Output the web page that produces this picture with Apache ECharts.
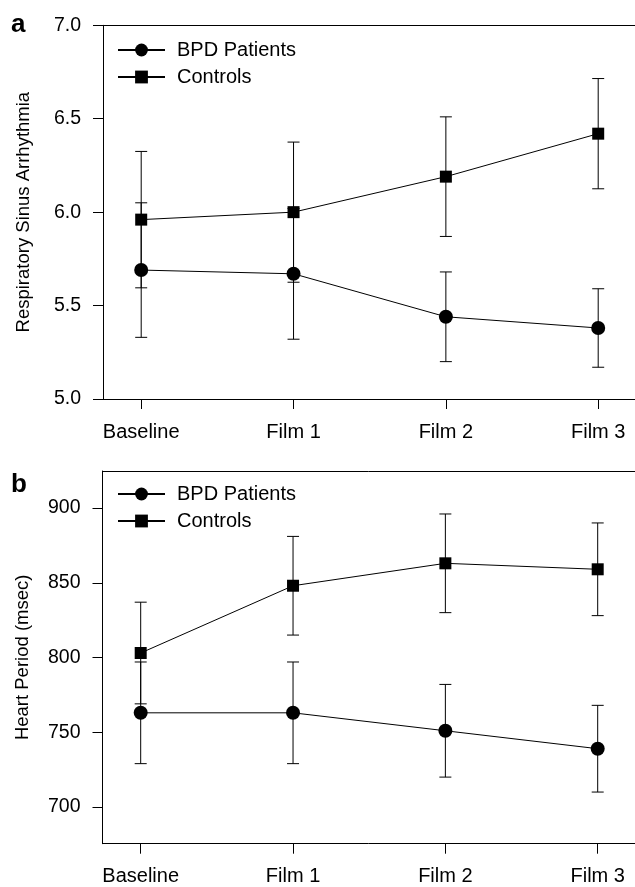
<!DOCTYPE html>
<html><head><meta charset="utf-8">
<script src="https://cdn.jsdelivr.net/npm/echarts@6/dist/echarts.min.js"></script>
<style>html,body{margin:0;padding:0;background:#fff}#c{width:635px;height:887px}</style>
</head><body><div id="c"></div>
<script>
const categories = ['Baseline', 'Film 1', 'Film 2', 'Film 3'];
const seriesNames = ['BPD Patients', 'Controls'];
const rsaBPD = [5.69, 5.67, 5.44, 5.38];
const rsaBPDErr = [0.36, 0.35, 0.24, 0.21];
const rsaCtrl = [5.96, 6.00, 6.19, 6.42];
const rsaCtrlErr = [0.365, 0.375, 0.32, 0.295];
const hpBPD = [763, 763, 751, 739];
const hpBPDErr = [34, 34, 31, 29];
const hpCtrl = [803, 848, 863, 859];
const hpCtrlErr = [34, 33, 33, 31];
const rsaTicks = [5.0, 5.5, 6.0, 6.5, 7.0];
const hpTicks = [700, 750, 800, 850, 900];
const hpBoxRange = [675, 925];

const FONT = 'Liberation Sans, Arial, Helvetica, sans-serif';
const BLACK = '#000';
const chart = echarts.init(document.getElementById('c'), null, {renderer: 'canvas'});

function errData(mean, err) {
  return categories.map((c, i) => [i, mean[i] - err[i], mean[i] + err[i]]);
}
function errItem(params, api) {
  const x = api.value(0);
  const lo = api.coord([x, api.value(1)]);
  const hi = api.coord([x, api.value(2)]);
  const w = 6;
  const style = {stroke: BLACK, lineWidth: 1};
  return {type: 'group', children: [
    {type: 'line', shape: {x1: hi[0], y1: hi[1], x2: lo[0], y2: lo[1]}, style},
    {type: 'line', shape: {x1: hi[0] - w, y1: hi[1], x2: hi[0] + w, y2: hi[1]}, style},
    {type: 'line', shape: {x1: lo[0] - w, y1: lo[1], x2: lo[0] + w, y2: lo[1]}, style}
  ]};
}
const lineAx = {show: true, onZero: false, lineStyle: {color: BLACK, width: 1}};
function boxX(grid, pos) {
  return {gridIndex: grid, type: 'value', min: 0, max: 1, position: pos,
    axisLine: lineAx, axisTick: {show: false}, axisLabel: {show: false}, splitLine: {show: false}};
}
function catX(grid, offset) {
  return {gridIndex: grid, type: 'category', data: categories, boundaryGap: false, position: 'bottom', offset: offset,
    axisLine: {show: false}, axisTick: {show: true, length: 10, interval: 0, lineStyle: {color: BLACK}},
    axisLabel: {color: BLACK, fontSize: 20, fontFamily: FONT, margin: 23, interval: 0}, splitLine: {show: false}};
}
function errSeries(xi, yi, mean, err) {
  return {type: 'custom', xAxisIndex: xi, yAxisIndex: yi, renderItem: errItem,
    data: errData(mean, err), encode: {x: 0, y: [1, 2]}, z: 1, silent: true};
}
function lineSeries(xi, yi, name, data, symbol, size) {
  return {type: 'line', name: name, xAxisIndex: xi, yAxisIndex: yi, data: data,
    symbol: symbol, symbolSize: size, showAllSymbol: true,
    itemStyle: {color: BLACK}, lineStyle: {color: BLACK, width: 1}, z: 3};
}
function legend(top) {
  return {data: seriesNames, orient: 'vertical', left: 117, top: top, padding: 0,
    itemWidth: 47, itemHeight: 16, itemGap: 7,
    textStyle: {fontSize: 20, color: BLACK, fontFamily: FONT, padding: [3, 0, 0, 7]}};
}

const option = {
  animation: false,
  backgroundColor: '#fff',
  textStyle: {fontFamily: FONT},
  title: [
    {text: 'a', left: 11, top: 12, padding: 0, textStyle: {fontSize: 26, fontWeight: 'bold', color: BLACK, fontFamily: FONT}},
    {text: 'b', left: 11, top: 472, padding: 0, textStyle: {fontSize: 26, fontWeight: 'bold', color: BLACK, fontFamily: FONT}}
  ],
  legend: [legend(40), legend(484)],
  grid: [
    {left: 103, right: -10, top: 25.3, height: 373.7},
    {left: 141.2, width: 457, top: 25.3, height: 373.7},
    {left: 102.5, right: -10, top: 471, height: 372.7},
    {left: 140.7, width: 457, top: 508, height: 299}
  ],
  xAxis: [
    boxX(0, 'bottom'), boxX(0, 'top'), catX(1, 0),
    boxX(2, 'bottom'), boxX(2, 'top'), catX(3, 36.7)
  ],
  yAxis: [
    {gridIndex: 0, type: 'value', min: rsaTicks[0], max: rsaTicks[rsaTicks.length - 1], interval: rsaTicks[1] - rsaTicks[0],
      axisLine: lineAx, axisTick: {show: true, length: 10, lineStyle: {color: BLACK}},
      axisLabel: {color: BLACK, fontSize: 19.5, fontFamily: FONT, margin: 22, formatter: v => v.toFixed(1)},
      splitLine: {show: false},
      name: 'Respiratory Sinus Arrhythmia', nameLocation: 'middle', nameGap: 70,
      nameTextStyle: {fontSize: 18.5, color: BLACK, fontFamily: FONT}},
    {gridIndex: 1, type: 'value', min: rsaTicks[0], max: rsaTicks[rsaTicks.length - 1], show: false},
    {gridIndex: 2, type: 'value', min: hpBoxRange[0], max: hpBoxRange[1],
      axisLine: lineAx, axisTick: {show: false}, axisLabel: {show: false}, splitLine: {show: false},
      name: 'Heart Period (msec)', nameLocation: 'middle', nameGap: 70,
      nameTextStyle: {fontSize: 18.5, color: BLACK, fontFamily: FONT}},
    {gridIndex: 3, type: 'value', min: hpTicks[0], max: hpTicks[hpTicks.length - 1], interval: hpTicks[1] - hpTicks[0],
      offset: 38.2, axisLine: {show: false}, axisTick: {show: true, length: 10, lineStyle: {color: BLACK}},
      axisLabel: {color: BLACK, fontSize: 19.5, fontFamily: FONT, margin: 22}, splitLine: {show: false}}
  ],
  series: [
    errSeries(2, 1, rsaBPD, rsaBPDErr),
    errSeries(2, 1, rsaCtrl, rsaCtrlErr),
    lineSeries(2, 1, seriesNames[0], rsaBPD, 'circle', 14),
    lineSeries(2, 1, seriesNames[1], rsaCtrl, 'rect', 12),
    errSeries(5, 3, hpBPD, hpBPDErr),
    errSeries(5, 3, hpCtrl, hpCtrlErr),
    lineSeries(5, 3, seriesNames[0], hpBPD, 'circle', 14),
    lineSeries(5, 3, seriesNames[1], hpCtrl, 'rect', 12)
  ]
};
chart.setOption(option);
</script>
</body></html>
